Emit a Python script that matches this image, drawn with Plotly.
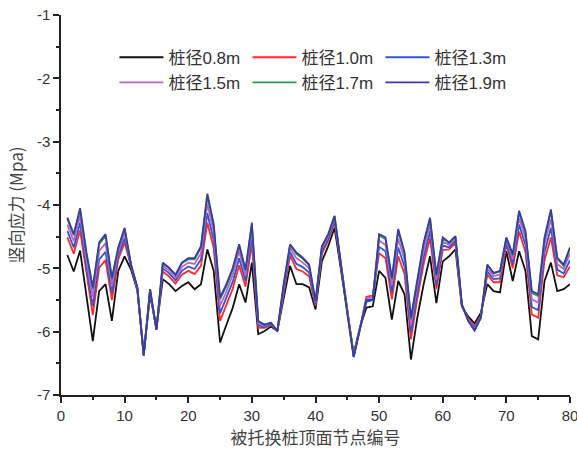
import plotly.graph_objects as go

nodes = list(range(1, 81))

d08 = [-4.79,-5.05,-4.72,-5.45,-6.15,-5.36,-5.25,-5.83,-5.04,-4.81,
 -5.02,-5.35,-6.35,-5.42,-5.95,-5.17,-5.25,-5.36,-5.28,-5.22,
 -5.33,-5.25,-4.70,-5.04,-6.17,-5.89,-5.62,-5.25,-5.54,-4.91,
 -6.04,-5.99,-5.92,-5.99,-5.50,-4.96,-5.25,-5.25,-5.30,-5.65,
 -4.89,-4.65,-4.36,-5.00,-5.70,-6.35,-5.93,-5.62,-5.60,-5.04,
 -5.15,-5.81,-5.20,-5.41,-6.44,-5.78,-5.25,-4.81,-5.55,-4.89,
 -4.81,-4.70,-5.60,-5.76,-5.87,-5.70,-5.25,-5.36,-5.38,-4.73,
 -5.20,-4.73,-5.04,-6.07,-6.12,-5.20,-4.91,-5.36,-5.33,-5.25]

d10 = [-4.51,-4.77,-4.40,-5.11,-5.74,-4.99,-4.87,-5.50,-4.86,-4.59,
 -4.98,-5.33,-6.36,-5.38,-5.96,-5.05,-5.13,-5.24,-5.10,-5.04,
 -5.09,-4.96,-4.28,-4.68,-5.83,-5.58,-5.32,-4.95,-5.29,-4.61,
 -5.94,-5.94,-5.89,-5.99,-5.38,-4.80,-5.01,-5.05,-5.13,-5.59,
 -4.77,-4.56,-4.27,-4.98,-5.71,-6.37,-5.94,-5.45,-5.43,-4.76,
 -4.84,-5.49,-4.81,-5.09,-6.12,-5.48,-4.93,-4.52,-5.33,-4.71,
 -4.70,-4.60,-5.59,-5.79,-5.92,-5.74,-5.10,-5.22,-5.22,-4.62,
 -5.00,-4.42,-4.74,-5.73,-5.78,-4.87,-4.51,-5.11,-5.14,-4.97]

d13 = [-4.41,-4.67,-4.28,-4.99,-5.60,-4.86,-4.74,-5.39,-4.80,-4.52,
 -4.97,-5.32,-6.37,-5.36,-5.96,-5.00,-5.08,-5.19,-5.04,-4.97,
 -5.01,-4.86,-4.13,-4.56,-5.71,-5.47,-5.21,-4.84,-5.20,-4.50,
 -5.90,-5.93,-5.88,-5.99,-5.34,-4.74,-4.93,-4.98,-5.07,-5.57,
 -4.73,-4.53,-4.24,-4.97,-5.71,-6.38,-5.94,-5.53,-5.50,-4.66,
 -4.73,-5.38,-4.67,-4.98,-6.01,-5.37,-4.82,-4.41,-5.26,-4.64,
 -4.67,-4.56,-5.58,-5.81,-5.94,-5.75,-5.05,-5.17,-5.16,-4.59,
 -4.93,-4.31,-4.63,-5.61,-5.66,-4.75,-4.36,-5.02,-5.08,-4.87]

d15 = [-4.31,-4.57,-4.17,-4.88,-5.45,-4.73,-4.60,-5.27,-4.74,-4.44,
 -4.95,-5.31,-6.37,-5.35,-5.97,-4.96,-5.04,-5.15,-4.98,-4.91,
 -4.93,-4.76,-3.98,-4.43,-5.59,-5.37,-5.10,-4.73,-5.11,-4.39,
 -5.87,-5.91,-5.87,-5.99,-5.30,-4.68,-4.84,-4.91,-5.00,-5.54,
 -4.69,-4.49,-4.20,-4.96,-5.72,-6.39,-5.95,-5.47,-5.46,-4.56,
 -4.63,-5.27,-4.53,-4.87,-5.90,-5.26,-4.71,-4.31,-5.18,-4.58,
 -4.63,-4.53,-5.58,-5.82,-5.96,-5.77,-5.00,-5.12,-5.10,-4.55,
 -4.86,-4.21,-4.52,-5.49,-5.54,-4.63,-4.22,-4.93,-5.01,-4.77]

d17 = [-4.22,-4.48,-4.08,-4.78,-5.33,-4.62,-4.49,-5.18,-4.69,-4.38,
 -4.94,-5.30,-6.38,-5.33,-5.97,-4.92,-5.00,-5.11,-4.92,-4.86,
 -4.86,-4.67,-3.86,-4.33,-5.49,-5.28,-5.02,-4.65,-5.04,-4.31,
 -5.84,-5.89,-5.86,-5.99,-5.26,-4.63,-4.77,-4.85,-4.95,-5.53,
 -4.66,-4.47,-4.18,-4.95,-5.72,-6.40,-5.95,-5.50,-5.49,-4.48,
 -4.54,-5.18,-4.41,-4.78,-5.81,-5.18,-4.62,-4.22,-5.12,-4.53,
 -4.60,-4.50,-5.57,-5.83,-5.98,-5.78,-4.95,-5.08,-5.05,-4.52,
 -4.80,-4.12,-4.44,-5.39,-5.44,-4.54,-4.10,-4.85,-4.96,-4.69]

d19 = [-4.20,-4.46,-4.05,-4.75,-5.30,-4.59,-4.46,-5.15,-4.67,-4.36,
 -4.94,-5.30,-6.38,-5.33,-5.97,-4.91,-4.99,-5.10,-4.91,-4.84,
 -4.84,-4.65,-3.82,-4.30,-5.46,-5.25,-4.99,-4.62,-5.02,-4.28,
 -5.83,-5.89,-5.86,-5.99,-5.25,-4.62,-4.75,-4.83,-4.94,-5.52,
 -4.65,-4.46,-4.17,-4.95,-5.72,-6.40,-5.95,-5.50,-5.50,-4.46,
 -4.51,-5.15,-4.38,-4.75,-5.78,-5.15,-4.59,-4.20,-5.10,-4.51,
 -4.59,-4.49,-5.57,-5.83,-5.98,-5.78,-4.94,-5.07,-5.04,-4.51,
 -4.78,-4.09,-4.41,-5.36,-5.41,-4.51,-4.07,-4.83,-4.94,-4.67]

series_names = ["桩径0.8m", "桩径1.0m", "桩径1.3m", "桩径1.5m", "桩径1.7m", "桩径1.9m"]
series_data = [d08, d10, d13, d15, d17, d19]
series_colors = ["#111111", "#ff2a2a", "#2f55d4", "#c060c8", "#2e9a4a", "#3a3aa8"]

x_ticks = [0, 10, 20, 30, 40, 50, 60, 70, 80]
y_ticks = [-1, -2, -3, -4, -5, -6, -7]

font_family = "Liberation Sans, Arial, Noto Sans CJK SC, sans-serif"

fig = go.Figure()
for name, data, color in zip(series_names, series_data, series_colors):
    fig.add_trace(go.Scatter(
        x=nodes, y=data, mode="lines", name=name,
        line=dict(color=color, width=1.8),
    ))

axis_common = dict(
    showgrid=False, zeroline=False, showline=True, linecolor="#222222", linewidth=1.5,
    ticks="outside", ticklen=6, tickwidth=1.5, tickcolor="#222222",
    tickfont=dict(family=font_family, size=15, color="#333333"),
    ticklabeloverflow="allow", automargin=False,
    mirror=False,
)

fig.update_layout(
    width=577, height=451,
    margin=dict(l=61, r=7, t=15, b=56, autoexpand=False),
    paper_bgcolor="white", plot_bgcolor="white",
    font=dict(family=font_family, color="#333333"),
    xaxis=dict(
        range=[0, 80.001], tickvals=x_ticks, ticktext=[str(v) for v in x_ticks],
        minor=dict(dtick=5, tick0=0, ticks="outside", ticklen=3, tickwidth=1.5, tickcolor="#222222"),
        title=dict(text="被托换桩顶面节点编号", font=dict(family="Noto Sans CJK SC", size=17, color="#444444"), standoff=8),
        **axis_common,
    ),
    yaxis=dict(
        range=[-7, -1], tickvals=y_ticks, ticktext=[str(v) for v in y_ticks],
        minor=dict(dtick=0.5, tick0=-7, ticks="outside", ticklen=3, tickwidth=1.5, tickcolor="#222222"),
        title=dict(text="竖向应力 (Mpa)", font=dict(family="Noto Sans CJK SC, Liberation Sans", size=17, color="#444444"), standoff=9),
        **axis_common,
    ),
    legend=dict(
        orientation="h", x=0.105, y=0.935, xanchor="left", yanchor="top",
        entrywidth=74, entrywidthmode="pixels", itemwidth=44,
        font=dict(family="Liberation Sans, Noto Sans CJK SC", size=17, color="#333333"),
        bgcolor="rgba(0,0,0,0)", borderwidth=0,
        traceorder="normal",
    ),
    showlegend=True,
)

fig.write_html(
    "out.html",
    config={"displayModeBar": False},
    post_script="document.body.style.margin='0';document.body.style.padding='0';",
)
